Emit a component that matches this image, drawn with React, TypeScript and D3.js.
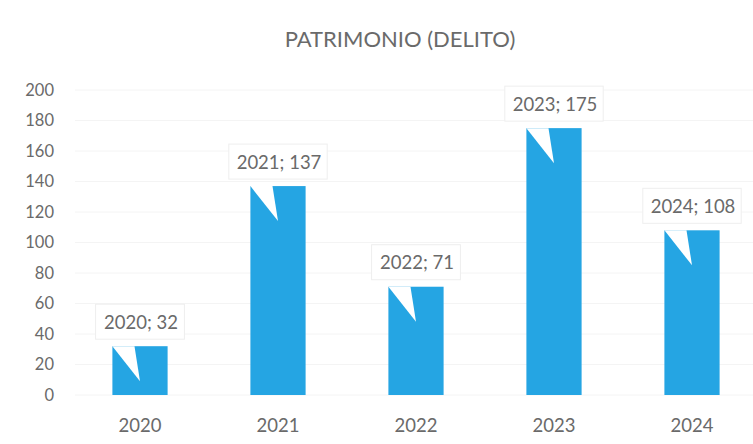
import React from "react";
import * as d3 from "d3";

const categories = ["2020", "2021", "2022", "2023", "2024"];
const values = [32, 137, 71, 175, 108];
const yTicks = [0, 20, 40, 60, 80, 100, 120, 140, 160, 180, 200];
const title = "PATRIMONIO (DELITO)";

const W = 753;
const H = 444;
const FONT = "Lato, 'Open Sans', sans-serif";
const TEXT = "#6a6a6a";
const BAR = "#25a5e3";

export default function App() {
  const x = d3.scaleBand<string>().domain(categories).range([71, 761]).paddingInner(0.6).paddingOuter(0.3);
  const y = d3.scaleLinear().domain([0, 200]).range([395, 90]);
  const bw = x.bandwidth();
  return (
    <svg width={W} height={H} style={{ position: "absolute", left: 0, top: 0, background: "#fff" }}>
      <text x={400} y={47} textAnchor="middle" fontFamily={FONT} fontSize={22} fill={TEXT}>{title}</text>
      {yTicks.map((t) => (
        <g key={t}>
          <line x1={75} x2={W} y1={y(t)} y2={y(t)} stroke="#f4f4f4" strokeWidth={1} />
          <text x={54} y={y(t)} dy="0.35em" textAnchor="end" fontFamily={FONT} fontSize={16.5} fill={TEXT}>{t}</text>
        </g>
      ))}
      {categories.map((c, i) => {
        const x0 = x(c)!;
        const cx = x0 + bw / 2;
        const top = y(values[i]);
        const label = `${c}; ${values[i]}`;
        const bwBox = label.length * 9.6 + 12;
        return (
          <g key={c}>
            <rect x={x0} y={top} width={bw} height={y(0) - top} fill={BAR} />
            <path d={`M${x0},${top} L${x0 + bw * 0.4},${top} L${cx},${top + 35} Z`} fill="#fff" />
            <rect x={cx - bwBox / 2} y={top - 42} width={bwBox} height={35} fill="#fff" stroke="#eeeeee" strokeWidth={1} />
            <text x={cx + 1} y={top - 24} dy="0.35em" textAnchor="middle" fontFamily={FONT} fontSize={18.5} fill={TEXT}>{label}</text>
            <text x={cx} y={426} dy="0.35em" textAnchor="middle" fontFamily={FONT} fontSize={18.5} fill={TEXT}>{c}</text>
          </g>
        );
      })}
    </svg>
  );
}
